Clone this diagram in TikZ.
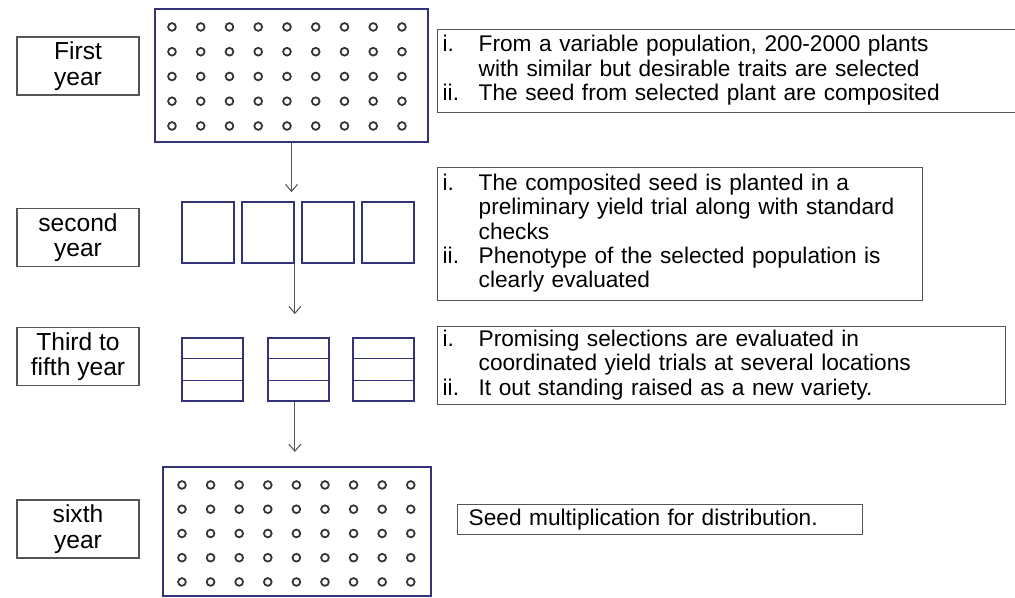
\documentclass[tikz,border=0pt]{standalone}
\usepackage{fontspec}
\setmainfont{Liberation Sans}
\usetikzlibrary{arrows.meta,calc}

\definecolor{plotblue}{RGB}{52,50,120}
\definecolor{linegray}{RGB}{85,85,85}

\tikzset{
  yearbox/.style={draw=linegray, line width=0.8pt, inner sep=0pt, align=center,
    minimum width=2.44cm, minimum height=1.16cm, font=\fontsize{14}{14.5}\selectfont},
  field/.style={draw=plotblue, line width=1.2pt, inner sep=0pt},
  plot/.style={draw=plotblue, line width=1pt, inner sep=0pt},
  note/.style={draw=linegray, line width=0.8pt, anchor=north west, inner xsep=0.1cm,
    inner ysep=0pt, align=left, font=\fontsize{12.9}{13.9}\selectfont},
  seed/.style={draw=black!80, line width=1pt},
}

\begin{document}
\begin{tikzpicture}[>={Straight Barb[length=0.14cm,width=0.24cm]},x=0.02cm,y=-0.02cm]

\path[fill=white,use as bounding box] (0,0) rectangle (1015,598);

% year labels
\node[yearbox] (first)  at (78,66)    {First\\year};
\node[yearbox] (second) at (78,237.5) {second\\year};
\node[yearbox] (third)  at (78,356.5) {Third to\\fifth year};
\node[yearbox] (sixth)  at (78,529)   {sixth\\year};

% plots
\node[field, minimum width=5.46cm, minimum height=2.66cm] (field1) at (291.5,75.5) {};
\node[plot, minimum width=1.04cm, minimum height=1.22cm] (yb1) at (208,232.5) {};
\node[plot, minimum width=1.04cm, minimum height=1.22cm] (yb2) at (268,232.5) {};
\node[plot, minimum width=1.04cm, minimum height=1.22cm] (yb3) at (328,232.5) {};
\node[plot, minimum width=1.04cm, minimum height=1.22cm] (yb4) at (388,232.5) {};
\node[plot, minimum width=1.22cm, minimum height=1.26cm] (tb1) at (212.5,369.5) {};
\node[plot, minimum width=1.22cm, minimum height=1.26cm] (tb2) at (298.5,369.5) {};
\node[plot, minimum width=1.22cm, minimum height=1.26cm] (tb3) at (383.5,369.5) {};
\node[field, minimum width=5.36cm, minimum height=2.58cm] (field6) at (297,531.5) {};

\foreach \i in {0,...,8}
  \foreach \j in {0,...,4} {
    \draw[seed] ($(field1.north west)+(18+28.75*\i,19+24.75*\j)$) circle[radius=2.2pt];
    \draw[seed] ($(field6.north west)+(20+28.6*\i,19+24.25*\j)$) circle[radius=2.2pt];
  }

\foreach \t in {tb1,tb2,tb3} {
  \draw[plotblue, line width=0.7pt] ($(\t.north west)!1/3!(\t.south west)$) -- ($(\t.north east)!1/3!(\t.south east)$);
  \draw[plotblue, line width=0.7pt] ($(\t.north west)!2/3!(\t.south west)$) -- ($(\t.north east)!2/3!(\t.south east)$);
}

% notes
\node[note, text width=11.46cm, minimum height=1.66cm] (note1) at (437,29) {%
  \begin{tabular}{@{}p{0.72cm}@{}l@{}}
  i. & From a variable population, 200-2000 plants\\
     & with similar but desirable traits are selected\\
  ii. & The seed from selected plant are composited
  \end{tabular}};
\node[note, text width=9.5cm, minimum height=2.66cm] (note2) at (437,167) {%
  \begin{tabular}{@{}p{0.72cm}@{}l@{}}
  i. & The composited seed is planted in a\\
     & preliminary yield trial along with standard\\
     & checks\\
  ii. & Phenotype of the selected population is\\
      & clearly evaluated
  \end{tabular}};
\node[note, text width=11.16cm, minimum height=1.56cm] (note3) at (437,326) {%
  \begin{tabular}{@{}p{0.72cm}@{}l@{}}
  i. & Promising selections are evaluated in\\
     & coordinated yield trials at several locations\\
  ii. & It out standing raised as a new variety.
  \end{tabular}};
\node[note, inner xsep=0.22cm, text width=7.66cm, minimum height=0.6cm] (note4) at (457,504)
  {Seed multiplication for distribution.};

% arrows
\draw[->, linegray, line width=0.6pt, shorten >=0.18cm] (field1.south) -- (field1.south |- yb2.north);
\draw[->, linegray, line width=0.6pt, shorten >=0.46cm] (yb2.south east) -- (yb2.south east |- tb2.north);
\draw[->, linegray, line width=0.6pt, shorten >=0.28cm] (tb2.south -| yb2.east) -- (yb2.east |- field6.north);

\end{tikzpicture}
\end{document}
